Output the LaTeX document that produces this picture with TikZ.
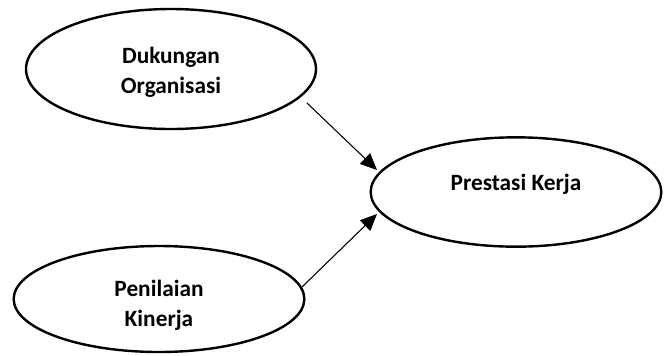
\documentclass[tikz,border=0pt]{standalone}
\usepackage{fontspec}
\setmainfont{Carlito}
\usetikzlibrary{shapes.geometric,arrows.meta}
\tikzset{
  oval/.style={ellipse, draw=black, line width=1.8pt, inner sep=0pt},
  lbl/.style={font=\bfseries\fontsize{17.5}{22.5}\selectfont, align=center, inner sep=0pt},
  conn/.style={line width=0.8pt, -{Triangle[length=12.5pt,width=11pt]}}
}
\begin{document}
\begin{tikzpicture}[x=0.75pt,y=-0.75pt]
\useasboundingbox (0,0) rectangle (664,355);
\node[oval, minimum width=217.5pt, minimum height=90pt] (dukungan) at (171,69) {};
\node[oval, minimum width=218pt, minimum height=82pt] (prestasi) at (516,192) {};
\node[oval, minimum width=218pt, minimum height=79.5pt] (penilaian) at (159,299) {};
\node[lbl] (t1) at (171,72) {Dukungan\\Organisasi};
\node[lbl] (t2) at (516,184) {Prestasi Kerja};
\node[lbl] (t3) at (159,305) {Penilaian\\Kinerja};
\coordinate (a1s) at (307,103);
\coordinate (a1e) at (377,170);
\coordinate (a2s) at (302,287);
\coordinate (a2e) at (377,214);
\draw[conn] (a1s) -- (a1e);
\draw[conn] (a2s) -- (a2e);
\end{tikzpicture}
\end{document}
